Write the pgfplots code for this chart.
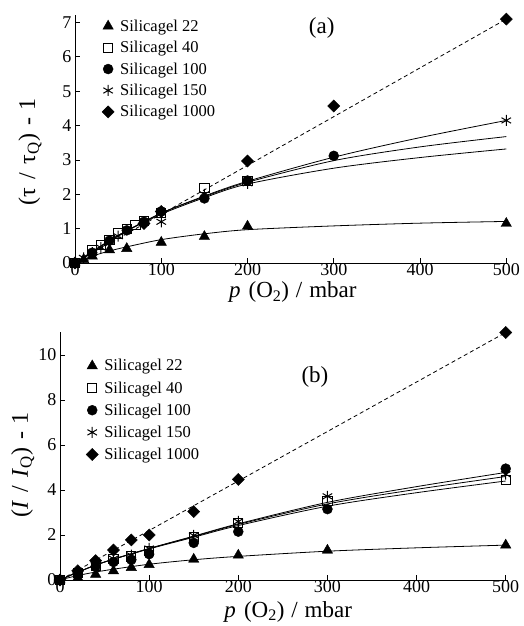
\documentclass[border=0pt]{standalone}
\usepackage{pgfplots}
\pgfplotsset{compat=1.18}
\usepackage{fontspec}
\setmainfont{Liberation Serif}
\begin{document}
\begin{tikzpicture}
\useasboundingbox (0pt,0pt) rectangle (524pt,626pt);
\pgfplotsset{
  every axis/.append style={
    scale only axis, axis lines=left, axis line style={-, line width=0.9pt},
    tick align=inside, major tick length=5pt, tick style={line width=0.8pt, black},
    tick pos=left,
    /pgf/number format/assume math mode=true,
    tick label style={font=\fontsize{18}{18}\selectfont},
    xticklabel style={inner sep=1pt, yshift=1pt},
    label style={font=\fontsize{23}{23}\selectfont},
    legend style={draw=none, fill=none, font=\fontsize{16.5}{16.5}\selectfont,
      legend cell align=left, inner sep=0pt},
    clip=false,
  },
  sg22/.style={only marks, mark=triangle*, mark size=6pt, black},
  sg40/.style={only marks, mark=square, mark size=4.6pt, black, mark options={fill=white, line width=0.9pt}},
  sg100/.style={only marks, mark=*, mark size=5pt, black},
  sg150/.style={only marks, mark=asterisk, mark size=5.5pt, black, mark options={line width=1pt}},
  sg1000/.style={only marks, mark=square*, mark size=4.3pt, black, mark options={rotate=45}},
  fit/.style={black, line width=0.8pt, smooth, forget plot},
  lin/.style={black, line width=0.8pt, dash pattern=on 4pt off 3pt, forget plot},
}
% ---------- panel (a) ----------
\begin{axis}[
  at={(75pt,363pt)}, anchor=south west, width=433pt, height=248pt,
  xmin=0, xmax=502, ymin=0, ymax=7.22,
  xtick={0,100,200,300,400,500}, ytick={0,1,2,3,4,5,6,7},
  xlabel={\textit{p}\hspace{0.35em}(O\textsubscript{2})\hspace{0.3em}/\hspace{0.3em}mbar},
  ylabel={\fontsize{24}{24}\selectfont(τ\hspace{0.35em}/\hspace{0.35em}τ\textsubscript{Q})\hspace{0.35em}-\hspace{0.3em}1},
  xlabel style={at={(axis description cs:0.503,-0.117)}, anchor=center, inner sep=0pt},
  ylabel style={at={(axis description cs:-0.104,0.448)}, anchor=center},
  legend style={at={(axis description cs:0.062,0.99)}, anchor=north west, row sep=4.5pt},
]
\addplot[lin] coordinates {(0,0) (500,7.1)};
\addplot[fit] coordinates {(0,0) (20,0.2) (40,0.35) (60,0.47) (100,0.68) (150,0.85) (200,0.97) (300,1.08) (400,1.16) (500,1.21)};
\addplot[fit] coordinates {(0,0) (20,0.32) (50,0.8) (100,1.45) (150,1.95) (200,2.38) (300,3.08) (400,3.65) (500,4.15)};
\addplot[fit] coordinates {(0,0) (20,0.33) (50,0.8) (100,1.45) (150,1.93) (200,2.35) (300,2.98) (400,3.38) (500,3.68)};
\addplot[fit] coordinates {(0,0) (20,0.33) (50,0.8) (100,1.42) (150,1.9) (200,2.3) (300,2.76) (400,3.07) (500,3.32)};
\addplot[sg22] coordinates {(0,0) (10,0.1) (20,0.2) (40,0.38) (60,0.42) (100,0.6) (150,0.77) (200,1.07) (500,1.15)};
\addplot[sg40] coordinates {(0,0) (20,0.38) (30,0.52) (40,0.68) (50,0.86) (60,1.0) (70,1.1) (80,1.22) (100,1.45) (150,2.18) (200,2.38)};
\addplot[sg100] coordinates {(0,0) (20,0.3) (40,0.65) (60,0.95) (80,1.2) (100,1.5) (150,1.88) (200,2.4) (300,3.12)};
\addplot[sg150] coordinates {(0,0) (10,0.15) (20,0.3) (30,0.45) (50,0.78) (100,1.2) (150,2.0) (200,2.32) (500,4.15)};
\addplot[sg1000] coordinates {(0,0) (80,1.15) (100,1.5) (200,2.97) (300,4.57) (500,7.1)};
\legend{\hspace{4pt}Silicagel 22, \hspace{4pt}Silicagel 40, \hspace{4pt}Silicagel 100, \hspace{4pt}Silicagel 150, \hspace{4pt}Silicagel 1000}
\node[font=\fontsize{23}{23}\selectfont] at (axis cs:286,6.85) {(a)};
\end{axis}
% ---------- panel (b) ----------
\begin{axis}[
  at={(60pt,46pt)}, anchor=south west, width=447.5pt, height=247.5pt,
  xmin=0, xmax=502, ymin=0, ymax=11,
  xtick={0,100,200,300,400,500}, ytick={0,2,4,6,8,10},
  xlabel={\textit{p}\hspace{0.35em}(O\textsubscript{2})\hspace{0.3em}/\hspace{0.3em}mbar},
  ylabel={\fontsize{24}{24}\selectfont(\textit{I}\hspace{0.35em}/\hspace{0.35em}\textit{I}\textsubscript{Q})\hspace{0.35em}-\hspace{0.3em}1},
  xlabel style={at={(axis description cs:0.51,-0.128)}, anchor=center, inner sep=0pt},
  ylabel style={at={(axis description cs:-0.083,0.465)}, anchor=center},
  legend style={at={(axis description cs:0.058,0.9)}, anchor=north west, row sep=5.2pt},
]
\addplot[lin] coordinates {(0,0) (500,11.0)};
\addplot[fit] coordinates {(0,0) (20,0.2) (50,0.42) (100,0.7) (150,0.9) (200,1.05) (300,1.28) (400,1.43) (500,1.55)};
\addplot[fit] coordinates {(0,0) (20,0.35) (50,0.8) (100,1.4) (150,1.95) (200,2.5) (300,3.45) (400,4.15) (500,4.78)};
\addplot[fit] coordinates {(0,0) (20,0.35) (50,0.8) (100,1.4) (150,1.93) (200,2.47) (300,3.38) (400,4.03) (500,4.6)};
\addplot[fit] coordinates {(0,0) (20,0.35) (50,0.8) (100,1.38) (150,1.9) (200,2.42) (300,3.28) (400,3.88) (500,4.4)};
\addplot[sg22] coordinates {(0,0) (20,0.1) (40,0.25) (60,0.4) (80,0.55) (100,0.68) (150,0.92) (200,1.1) (300,1.32) (500,1.55)};
\addplot[sg40] coordinates {(0,0) (20,0.3) (40,0.65) (60,0.95) (80,1.05) (100,1.3) (150,1.9) (200,2.55) (300,3.5) (500,4.45)};
\addplot[sg100] coordinates {(0,0) (20,0.25) (40,0.6) (60,0.8) (80,0.9) (100,1.15) (150,1.65) (200,2.15) (300,3.15) (500,4.95)};
\addplot[sg150] coordinates {(0,0) (20,0.3) (40,0.7) (60,0.95) (80,1.1) (100,1.4) (150,1.98) (200,2.6) (300,3.72) (500,4.7)};
\addplot[sg1000] coordinates {(0,0) (20,0.41) (40,0.86) (60,1.33) (80,1.78) (100,2.0) (150,3.04) (200,4.47) (500,11.0)};
\legend{\hspace{4pt}Silicagel 22, \hspace{4pt}Silicagel 40, \hspace{4pt}Silicagel 100, \hspace{4pt}Silicagel 150, \hspace{4pt}Silicagel 1000}
\node[font=\fontsize{23}{23}\selectfont] at (axis cs:286,9.02) {(b)};
\end{axis}
\end{tikzpicture}
\end{document}
